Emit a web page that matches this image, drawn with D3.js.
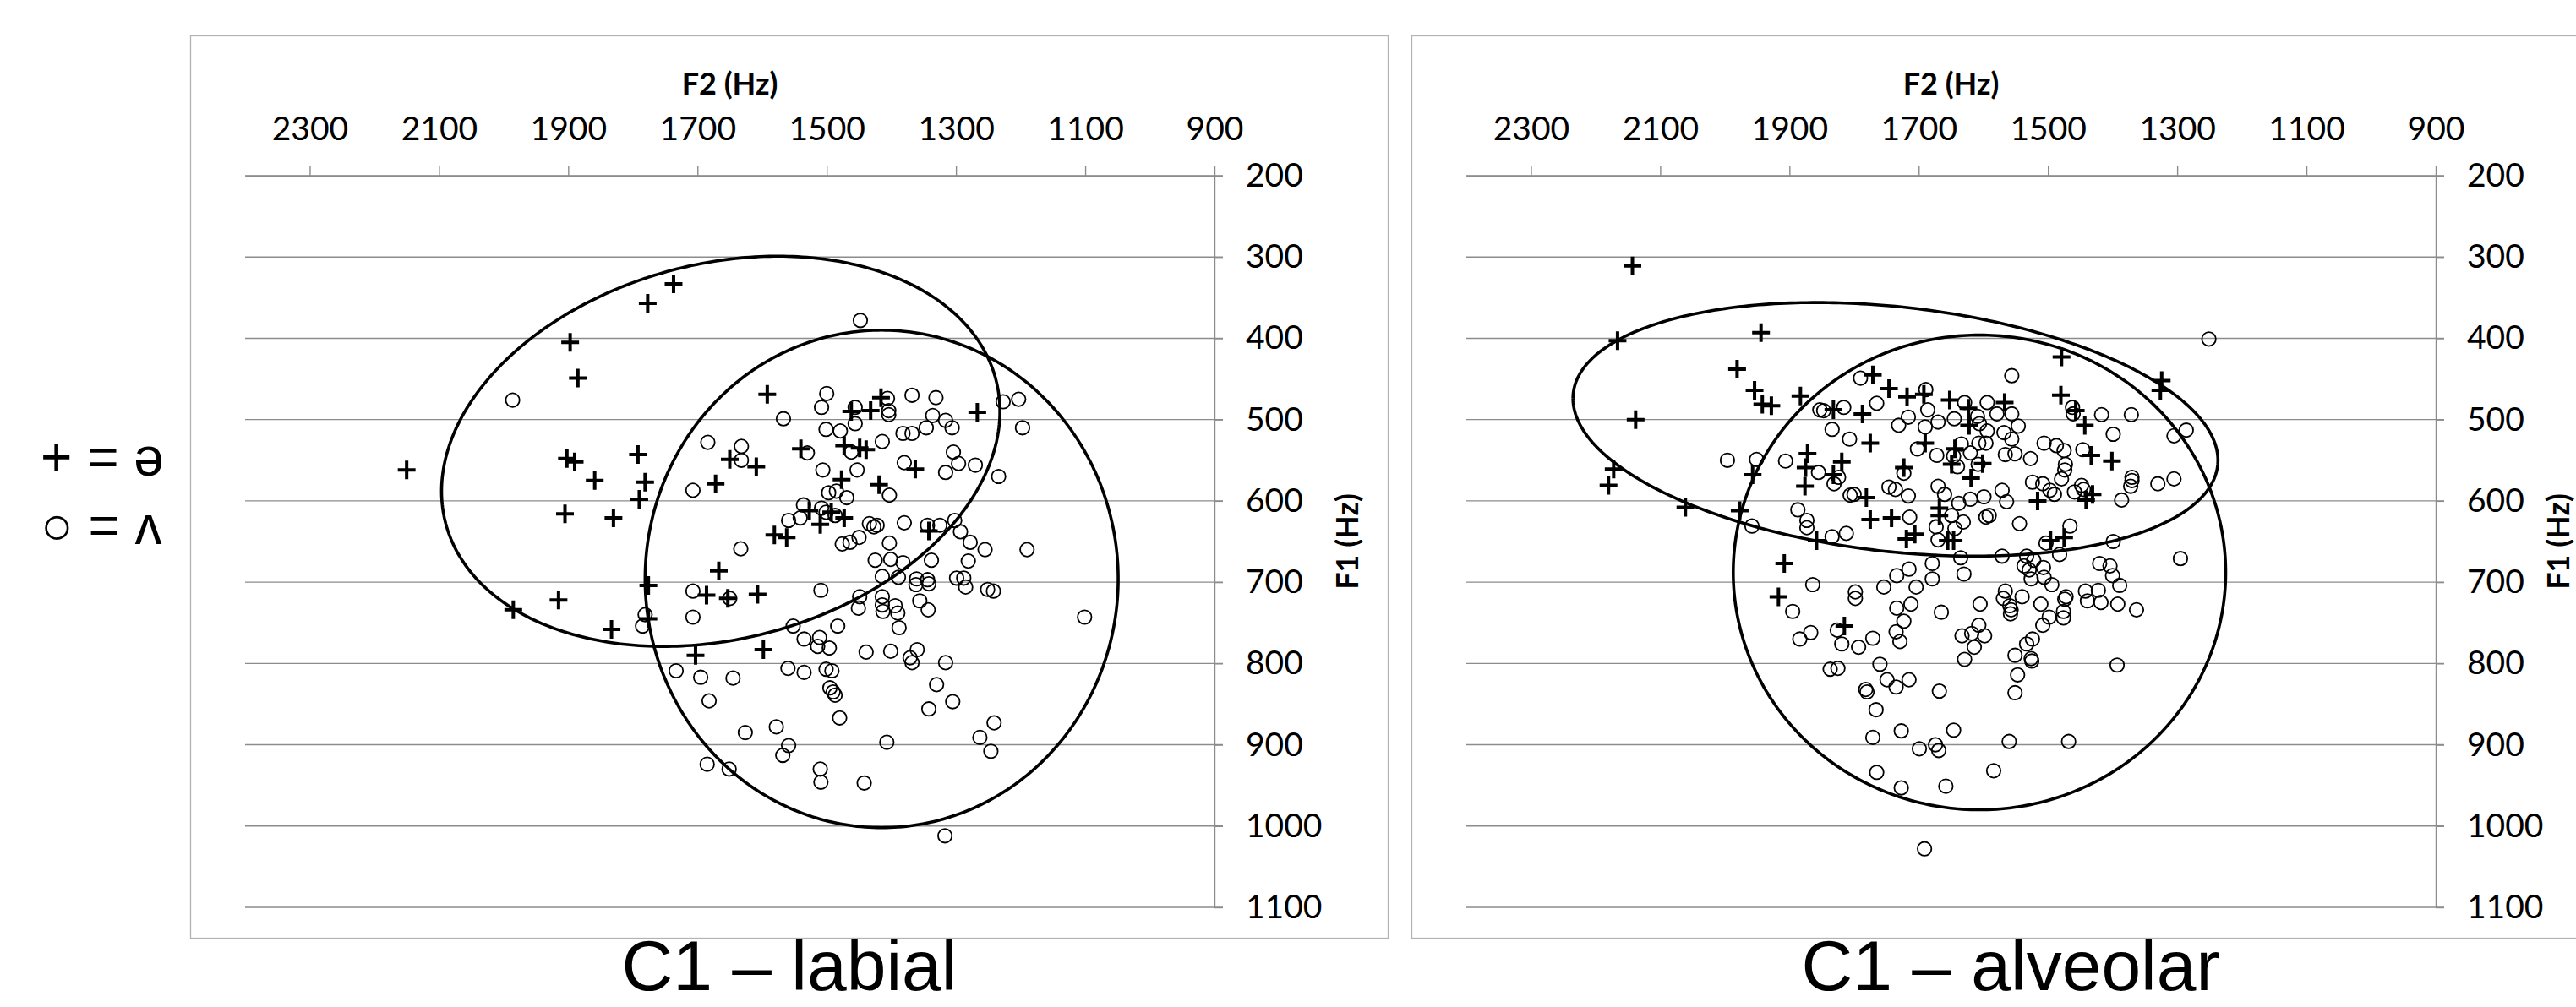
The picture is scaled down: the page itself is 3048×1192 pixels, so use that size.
<!DOCTYPE html>
<html><head><meta charset="utf-8">
<script src="https://cdn.jsdelivr.net/npm/d3@7"></script>
<style>
html,body{margin:0;padding:0;background:#fff;}
svg{display:block;}
</style></head>
<body>
<svg id="chart" width="3048" height="1192"></svg>
<script>
// ---- data (F2 Hz, F1 Hz) ----
const xTicks = [2300, 2100, 1900, 1700, 1500, 1300, 1100, 900];
const yTicks = [200, 300, 400, 500, 600, 700, 800, 900, 1000, 1100];
const panelTitles = ["C1 \u2013 labial", "C1 \u2013 alveolar"];
const legendLabels = ["+ = \u0259", "\u25CB = \u028C"];

const labialSchwa = [
[1737,333],[1777,357],[1897,405],[1885,449],[2150,562],[1902,548],[1890,552],[1792,543],[1859,575],[1781,577],
[1790,598],[1905,616],[1830,621],[1650,549],[1672,579],[1667,686],[1776,704],[1686,716],[1653,720],[1915,722],
[1985,734],[1776,745],[1833,758],[1592,469],[1462,490],[1432,489],[1416,473],[1267,491],[1473,532],[1449,535],
[1439,537],[1540,536],[1609,558],[1477,574],[1419,580],[1363,561],[1527,612],[1493,614],[1473,621],[1510,629],
[1581,642],[1562,645],[1342,637],[1607,715],[1703,790],[1598,783]
];
const labialWedge = [
[1986,476],[1684,528],[1707,587],[1707,711],[1650,720],[1781,740],[1707,743],[1785,754],
[1448,378],[1500,468],[1508,485],[1567,499],[1456,485],[1406,474],[1404,489],[1404,494],[1368,470],[1331,473],
[1227,478],[1203,475],[1197,510],[1336,495],[1316,501],[1306,510],[1346,510],[1368,517],[1382,517],[1414,527],
[1501,512],[1479,514],[1456,505],[1462,540],[1530,541],[1632,533],[1632,550],[1506,562],[1453,562],[1403,593],
[1380,553],[1304,540],[1296,554],[1316,565],[1270,556],[1234,570],[1497,590],[1485,588],[1469,596],[1536,605],
[1508,609],[1501,614],[1487,618],[1541,621],[1559,624],[1633,659],[1434,628],[1427,632],[1422,630],[1380,627],
[1344,630],[1325,630],[1302,624],[1293,638],[1278,651],[1255,660],[1190,660],[1101,743],[1281,674],[1338,673],
[1403,652],[1450,645],[1464,651],[1476,653],[1425,673],[1401,672],[1382,676],[1414,693],[1389,694],[1361,696],
[1362,703],[1344,697],[1342,702],[1299,695],[1288,695],[1285,706],[1251,709],[1242,711],[1509,710],[1449,718],
[1451,732],[1414,718],[1414,728],[1413,736],[1394,729],[1390,738],[1356,723],[1343,734],[1388,756],[1483,754],
[1552,754],[1535,770],[1511,768],[1514,779],[1496,781],[1733,809],[1695,817],[1645,818],[1682,846],[1560,806],
[1535,811],[1501,807],[1492,809],[1495,830],[1490,835],[1487,839],[1480,867],[1626,885],[1578,878],[1559,901],
[1568,913],[1685,924],[1651,930],[1510,930],[1509,946],[1439,786],[1401,785],[1360,783],[1371,793],[1368,799],
[1316,799],[1330,826],[1305,847],[1342,856],[1241,873],[1263,891],[1246,908],[1407,897],[1442,947],[1317,1012]
];
const alveolarSchwa = [
[2143,311],[2166,403],[1944,393],[1981,438],[1954,464],[1942,481],[1928,483],[2138,500],[1883,471],[1832,488],
[1787,493],[1771,445],[1746,462],[1775,529],[2172,561],[2180,581],[1957,568],[1872,542],[1875,559],[1876,582],
[1819,552],[1832,568],[1781,596],[2061,608],[1977,612],[1858,649],[1775,623],[1742,621],[1908,677],
[1479,423],[1324,452],[1326,464],[1480,470],[1457,489],[1443,507],[1433,544],[1401,551],[1431,592],[1441,599],
[1516,600],[1496,649],[1475,645],[1718,472],[1692,469],[1652,476],[1623,486],[1622,507],[1567,479],[1690,529],
[1644,536],[1649,555],[1601,554],[1619,572],[1723,559],[1668,609],[1668,618],[1706,641],[1719,647],[1655,649],
[1646,649],[1917,718],[1815,754]
];
const alveolarWedge = [
[1853,488],[1847,489],[1816,485],[1790,449],[1765,480],[1731,507],[1834,512],[1807,524],[1996,550],[1951,549],
[1906,551],[1855,565],[1824,571],[1831,579],[1806,593],[1800,592],[1746,583],[1736,586],[1958,631],[1887,611],
[1873,624],[1873,633],[1834,644],[1812,640],
[1251,401],[1556,446],[1462,485],[1461,493],[1417,494],[1371,494],[1399,518],[1305,520],[1286,513],[1506,529],
[1487,532],[1475,538],[1446,537],[1473,555],[1474,562],[1479,573],[1370,571],[1370,575],[1372,582],[1330,579],
[1305,573],[1524,577],[1508,579],[1497,587],[1490,592],[1459,589],[1448,581],[1445,586],[1386,599],[1544,628],
[1466,631],[1503,652],[1399,650],[1295,671],[1482,666],[1571,668],[1533,668],[1522,673],[1507,682],[1537,680],
[1420,677],[1404,680],[1635,670],[1679,677],[1715,684],
[1689,463],[1686,488],[1716,497],[1690,509],[1670,503],[1629,479],[1645,499],[1609,496],[1606,505],[1594,479],
[1579,493],[1556,493],[1546,508],[1594,514],[1568,516],[1556,524],[1607,529],[1596,529],[1634,530],[1620,541],
[1702,536],[1672,544],[1646,545],[1640,558],[1608,555],[1566,543],[1551,542],[1527,548],[1723,566],[1670,582],
[1660,592],[1716,594],[1638,603],[1620,598],[1599,595],[1571,587],[1564,601],[1649,618],[1631,626],[1644,634],
[1673,632],[1670,648],[1596,620],[1591,618],[1714,620],
[1864,703],[1895,736],[1867,762],[1884,770],[1826,759],[1819,776],[1793,780],[1798,712],[1798,720],[1754,706],
[1734,692],[1679,696],[1630,690],[1704,706],[1734,732],[1712,727],[1723,748],[1665,737],[1735,761],[1729,773],
[1771,769],[1760,801],[1837,807],[1825,806],[1749,820],[1735,829],[1715,820],[1782,832],[1780,835],[1668,834],
[1766,857],[1771,891],[1727,883],[1646,882],[1699,905],[1674,900],[1669,907],[1765,934],[1727,953],[1658,951],
[1691,1028],[1605,727],[1607,753],[1614,780],[1633,766],[1618,763],[1629,795],
[1529,685],[1526,696],[1506,694],[1494,703],[1400,692],[1389,704],[1442,711],[1422,710],[1439,723],[1418,725],
[1392,727],[1363,734],[1566,711],[1569,720],[1559,729],[1557,734],[1558,739],[1540,718],[1511,727],[1498,743],
[1508,753],[1472,718],[1474,721],[1476,736],[1476,744],[1598,766],[1524,770],[1533,776],[1526,794],[1525,797],
[1551,790],[1547,814],[1551,836],[1393,802],[1560,896],[1468,896],[1584,932]
];
// ellipses: [centre F2, centre F1, half-extent F2, half-extent F1, correlation]
const labialEllipses = [[1664, 539, 432, 240, 0.205], [1415, 696, 366, 306, 0.0]];
const alveolarEllipses = [[1736, 512, 499, 156, -0.244], [1606, 688, 381, 292, 0.0]];

// ---- drawing ----
const svg = d3.select("#chart");
const tickFont = "Lato, 'Open Sans', sans-serif";
const fmt = d3.format("d");

function drawPanel(dx, title, schwa, wedge, ellipses, f1TitleX) {
  const g = svg.append("g").attr("transform", `translate(${dx},0)`);
  const x = d3.scaleLinear().domain([2400, 900]).range([290, 1437]);
  const y = d3.scaleLinear().domain([200, 1100]).range([208, 1074]);

  // chart border
  g.append("rect").attr("x", 225.5).attr("y", 42.5).attr("width", 1417).attr("height", 1068)
    .attr("fill", "none").attr("stroke", "#b3b3b3").attr("stroke-width", 1.3);

  // gridlines
  g.append("g").selectAll("line").data(yTicks).join("line")
    .attr("x1", x(2400)).attr("x2", x(900) + 10)
    .attr("y1", d => y(d)).attr("y2", d => y(d))
    .attr("stroke", "#8c8c8c").attr("stroke-width", 1.4);

  // top (F2) axis
  const xa = g.append("g").attr("transform", `translate(0,${y(200)})`)
    .call(d3.axisTop(x).tickValues(xTicks).tickFormat(fmt).tickSize(11).tickSizeOuter(0).tickPadding(30));
  xa.select(".domain").attr("stroke", "#8c8c8c").attr("stroke-width", 1.4);
  xa.selectAll(".tick line").attr("stroke", "#8c8c8c").attr("stroke-width", 1.4);
  xa.selectAll(".tick text").attr("font-family", tickFont).attr("font-size", 39).attr("fill", "#000")
    .attr("dy", "0.36em").attr("y", -(y(200) - 152));

  // right (F1) axis
  const ya = g.append("g").attr("transform", `translate(${x(900)},0)`)
    .call(d3.axisRight(y).tickValues(yTicks).tickFormat(fmt).tickSize(10).tickSizeOuter(0).tickPadding(27));
  ya.select(".domain").attr("stroke", "#8c8c8c").attr("stroke-width", 1.4);
  ya.selectAll(".tick line").attr("stroke", "#8c8c8c").attr("stroke-width", 1.4);
  ya.selectAll(".tick text").attr("font-family", tickFont).attr("font-size", 39).attr("fill", "#000");

  // axis titles
  g.append("text").attr("x", (x(2400) + x(900)) / 2).attr("y", 99).attr("dy", "0.35em")
    .attr("text-anchor", "middle").attr("font-family", tickFont).attr("font-weight", "bold")
    .attr("font-size", 36).text("F2 (Hz)");
  g.append("text").attr("transform", `translate(${f1TitleX},${(y(200) + y(1100)) / 2}) rotate(-90)`)
    .attr("dy", "0.35em").attr("text-anchor", "middle").attr("font-family", tickFont)
    .attr("font-weight", "bold").attr("font-size", 36).text("F1 (Hz)");

  // ellipses
  const ts = d3.range(0, 361).map(i => i / 360 * 2 * Math.PI);
  const line = d3.line().x(d => x(d[0])).y(d => y(d[1]));
  ellipses.forEach(e => {
    const [cx, cy, rx, ry, r] = e;
    const pts = ts.map(t => [cx + rx * Math.cos(t), cy + ry * (r * Math.cos(t) + Math.sqrt(1 - r * r) * Math.sin(t))]);
    g.append("path").attr("d", line(pts)).attr("fill", "none").attr("stroke", "#000").attr("stroke-width", 3.6);
  });

  // wedge (circles)
  g.append("g").selectAll("circle").data(wedge).join("circle")
    .attr("cx", d => x(d[0])).attr("cy", d => y(d[1])).attr("r", 8.2)
    .attr("fill", "none").attr("stroke", "#000").attr("stroke-width", 1.8);

  // schwa (plus)
  g.append("g").selectAll("path").data(schwa).join("path")
    .attr("d", d => { const px = x(d[0]), py = y(d[1]); return `M${px - 10.5},${py}H${px + 10.5}M${px},${py - 11}V${py + 11}`; })
    .attr("stroke", "#000").attr("stroke-width", 4).attr("fill", "none");

  // panel title
  g.append("text").attr("x", 934).attr("y", 1172).attr("text-anchor", "middle")
    .attr("font-family", "'Liberation Sans', Arial, sans-serif").attr("font-size", 84).text(title);
}

drawPanel(0, panelTitles[0], labialSchwa, labialWedge, labialEllipses, 1594);
drawPanel(1445, panelTitles[1], alveolarSchwa, alveolarWedge, alveolarEllipses, 1582);

// legend
const lg = svg.append("g").attr("font-family", "'Liberation Sans', 'DejaVu Sans', Arial, sans-serif").attr("font-size", 64);
lg.selectAll("text").data(legendLabels).join("text")
  .attr("x", 48).attr("y", (d, i) => [541, 622][i]).attr("dy", "0.35em").text(d => d);
</script>
</body></html>
